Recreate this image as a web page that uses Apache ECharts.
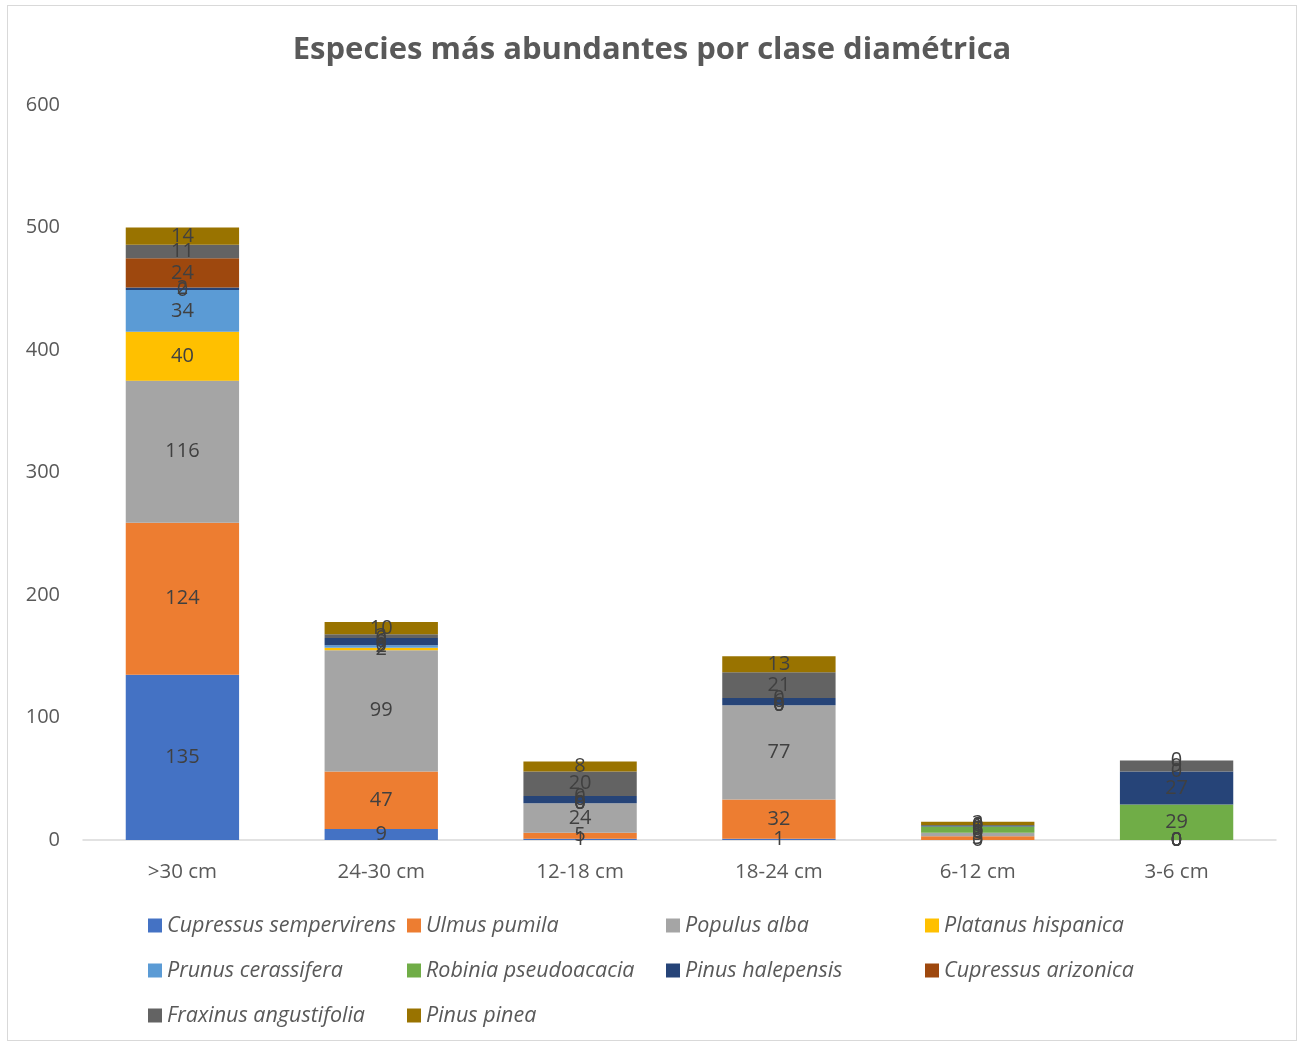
<!DOCTYPE html>
<html>
<head>
<meta charset="utf-8">
<script src="https://cdn.jsdelivr.net/npm/echarts@6/dist/echarts.min.js"></script>
<style>
  html, body { margin: 0; padding: 0; background: #fff; }
  #main { position: absolute; left: 7px; top: 5px; width: 1290px; height: 1036px; border: 1px solid #d9d9d9; box-sizing: border-box; }
</style>
</head>
<body>
<div id="main"></div>
<script>
var categories = [">30 cm", "24-30 cm", "12-18 cm", "18-24 cm", "6-12 cm", "3-6 cm"];
var speciesNames = [
  "Cupressus sempervirens", "Ulmus pumila", "Populus alba", "Platanus hispanica",
  "Prunus cerassifera", "Robinia pseudoacacia", "Pinus halepensis", "Cupressus arizonica",
  "Fraxinus angustifolia", "Pinus pinea"
];
var cupressusSempervirens = [135, 9, 1, 1, 0, 0];
var ulmusPumila = [124, 47, 5, 32, 3, 0];
var populusAlba = [116, 99, 24, 77, 3, 0];
var platanusHispanica = [40, 2, 0, 0, 0, 0];
var prunusCerassifera = [34, 2, 0, 0, 0, 0];
var robiniaPseudoacacia = [0, 0, 0, 0, 5, 29];
var pinusHalepensis = [2, 6, 6, 6, 1, 27];
var cupressusArizonica = [24, 0, 0, 0, 0, 0];
var fraxinusAngustifolia = [11, 3, 20, 21, 0, 9];
var pinusPinea = [14, 10, 8, 13, 3, 0];
var yTicks = [0, 100, 200, 300, 400, 500, 600];

var seriesData = [cupressusSempervirens, ulmusPumila, populusAlba, platanusHispanica,
  prunusCerassifera, robiniaPseudoacacia, pinusHalepensis, cupressusArizonica,
  fraxinusAngustifolia, pinusPinea];
var colors = ["#4472C4", "#ED7D31", "#A5A5A5", "#FFC000", "#5B9BD5",
  "#70AD47", "#264478", "#9E480E", "#636363", "#997300"];

var font = "'Open Sans', 'Noto Sans', sans-serif";
var series = seriesData.map(function (d, i) {
  return {
    name: speciesNames[i],
    type: "bar",
    stack: "total",
    barWidth: "57%",
    data: d,
    itemStyle: { color: colors[i] },
    label: {
      show: true,
      position: "inside",
      color: "#404040",
      fontSize: 20,
      fontFamily: font
    }
  };
});

var myChart = echarts.init(document.getElementById("main"));
var option = {
  color: colors,
  animation: false,
  title: {
    text: "Especies más abundantes por clase diamétrica",
    left: "center",
    top: 24,
    textStyle: { fontSize: 31, fontWeight: "bold", color: "#595959", fontFamily: font }
  },
  legend: {
    data: speciesNames,
    left: 135,
    top: 897,
    width: 1050,
    itemWidth: 14,
    itemHeight: 14,
    itemGap: 10,
    icon: "rect",
    textStyle: {
      fontSize: 21.5,
      fontStyle: "italic",
      color: "#595959",
      fontFamily: font,
      width: 230,
      lineHeight: 35
    }
  },
  grid: {
    left: 75,
    right: 20,
    top: 99,
    bottom: 200,
    containLabel: false
  },
  xAxis: {
    type: "category",
    data: categories,
    axisLine: { lineStyle: { color: "#d9d9d9", width: 1.5 } },
    axisTick: { show: false },
    axisLabel: { color: "#595959", fontSize: 20.5, fontFamily: font, margin: 22 }
  },
  yAxis: {
    type: "value",
    min: yTicks[0],
    max: yTicks[yTicks.length - 1],
    interval: 100,
    splitLine: { show: false },
    axisLine: { show: false },
    axisLabel: { color: "#595959", fontSize: 20, fontFamily: font, margin: 23 }
  },
  series: series
};
myChart.setOption(option);
</script>
</body>
</html>
